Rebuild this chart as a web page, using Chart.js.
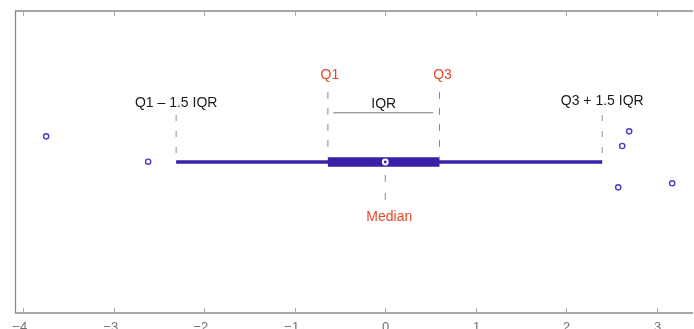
<!DOCTYPE html>
<html>
<head>
<meta charset="utf-8">
<script src="https://cdn.jsdelivr.net/npm/chart.js@4/dist/chart.umd.min.js"></script>
<style>
  html, body { margin: 0; padding: 0; background: #ffffff; }
  #wrap { width: 694px; height: 329px; }
</style>
</head>
<body>
<div id="wrap"><canvas id="c" width="694" height="329"></canvas></div>
<script>
// Box-plot summary of a sample: whiskers, quartiles and median on the x axis
const whiskerLow = -2.31;
const q1 = -0.634;
const median = 0.0;
const q3 = 0.599;
const whiskerHigh = 2.396;

// Points beyond the whiskers (y is only a small jitter around the box line)
const outlierX = [-3.746, -2.619, 2.573, 2.617, 2.694, 3.169];
const outlierY = [0.170, 0.002, -0.168, 0.106, 0.203, -0.141];

// Axis ticks
const tickValues = [-4, -3, -2, -1, 0, 1, 2, 3];
const tickLabels = ['\u22124', '\u22123', '\u22122', '\u22121', '0', '1', '2', '3'];

// Annotation texts
const fenceLowText = 'Q1 \u2013 1.5 IQR';
const fenceHighText = 'Q3 + 1.5 IQR';
const q1Text = 'Q1';
const q3Text = 'Q3';
const iqrText = 'IQR';
const medianText = 'Median';

const BOX_COLOR = '#3a1fa8';
const POINT_COLOR = '#4a3bcc';
const RED = '#e4472b';
const DASH_COLOR = '#8c8c8c';
const FONT = '"Liberation Sans", Arial, Helvetica, sans-serif';

function seg(x0, y0, x1, y1) { return [{ x: x0, y: y0 }, { x: x1, y: y1 }]; }

function dashed(data, dash) {
  return {
    type: 'scatter', showLine: true, data: data,
    borderColor: DASH_COLOR, borderWidth: 1, borderDash: dash,
    pointRadius: 0, pointHoverRadius: 0, order: 5
  };
}

const datasets = [
  // whisker line
  {
    type: 'scatter', showLine: true, data: seg(whiskerLow, 0, whiskerHigh, 0),
    borderColor: BOX_COLOR, borderWidth: 3.5, borderCapStyle: 'butt',
    pointRadius: 0, pointHoverRadius: 0, order: 3
  },
  // interquartile box
  {
    type: 'scatter', showLine: true, data: seg(q1, 0, q3, 0),
    borderColor: BOX_COLOR, borderWidth: 9.5, borderCapStyle: 'butt',
    pointRadius: 0, pointHoverRadius: 0, order: 2
  },
  // median marker
  {
    type: 'scatter', data: [{ x: median, y: 0 }],
    pointStyle: 'circle', pointRadius: 2.4, pointBorderWidth: 2,
    pointBackgroundColor: BOX_COLOR, pointBorderColor: '#ffffff', order: 1
  },
  // outliers
  {
    type: 'scatter', data: outlierX.map((x, i) => ({ x: x, y: outlierY[i] })),
    pointStyle: 'circle', pointRadius: 2.6, pointBorderWidth: 1.4,
    pointBackgroundColor: '#ffffff', pointBorderColor: POINT_COLOR, order: 0
  },
  // guide lines
  dashed(seg(whiskerLow, 0.311, whiskerLow, 0.035), [6, 10]),
  dashed(seg(whiskerHigh, 0.311, whiskerHigh, 0.035), [6, 10]),
  dashed(seg(q1, 0.464, q1, 0.035), [7, 9]),
  dashed(seg(q3, 0.464, q3, 0.035), [7, 9]),
  dashed(seg(median, -0.086, median, -0.265), [7, 11]),
  {
    type: 'scatter', showLine: true, data: seg(-0.575, 0.326, 0.530, 0.326),
    borderColor: '#7a7a7a', borderWidth: 1,
    pointRadius: 0, pointHoverRadius: 0, order: 5
  }
];

// Frame, inward ticks and tick labels
const framePlugin = {
  id: 'frame',
  beforeDatasetsDraw(chart) {
    const { ctx, chartArea: a, scales: { x } } = chart;
    ctx.save();
    ctx.strokeStyle = '#8a8a8a';
    ctx.lineWidth = 1.3;
    ctx.beginPath();
    ctx.moveTo(a.left + 0.5, a.bottom);
    ctx.lineTo(a.left + 0.5, a.top);
    ctx.lineTo(a.right - 1, a.top);
    ctx.moveTo(a.left, a.bottom);
    ctx.lineTo(a.right - 1, a.bottom);
    ctx.stroke();

    ctx.strokeStyle = '#a8a8a8';
    ctx.lineWidth = 1;
    ctx.font = '13px ' + FONT;
    ctx.fillStyle = '#707070';
    ctx.textBaseline = 'top';
    tickValues.forEach((v, i) => {
      const px = Math.round(x.getPixelForValue(v)) + 0.5;
      ctx.beginPath();
      ctx.moveTo(px, a.bottom);
      ctx.lineTo(px, a.bottom - 5);
      ctx.moveTo(px, a.top);
      ctx.lineTo(px, a.top + 5);
      ctx.stroke();
      const digitW = ctx.measureText(tickLabels[i].replace('\u2212', '')).width;
      ctx.textAlign = 'right';
      ctx.fillText(tickLabels[i], px + digitW / 2, a.bottom + 8);
    });
    ctx.restore();
  }
};

// Text annotations placed in data coordinates
const notesPlugin = {
  id: 'notes',
  afterDatasetsDraw(chart) {
    const { ctx, scales: { x, y } } = chart;
    const put = (text, vx, vy, color, dx) => {
      ctx.fillStyle = color;
      ctx.fillText(text, x.getPixelForValue(vx) + (dx || 0), y.getPixelForValue(vy));
    };
    ctx.save();
    ctx.font = '14px ' + FONT;
    ctx.textAlign = 'center';
    ctx.textBaseline = 'middle';
    put(fenceLowText, whiskerLow, 0.393, '#1a1a1a');
    put(fenceHighText, whiskerHigh, 0.400, '#1a1a1a');
    put(q1Text, q1, 0.576, RED, 2);
    put(q3Text, q3, 0.576, RED, 3);
    put(iqrText, (q1 + q3) / 2, 0.384, '#1a1a1a');
    put(medianText, median, -0.362, RED, 4);
    ctx.restore();
  }
};

new Chart(document.getElementById('c'), {
  type: 'scatter',
  data: { datasets: datasets },
  options: {
    responsive: false,
    animation: false,
    devicePixelRatio: 1,
    layout: { autoPadding: false, padding: { left: 15, top: 11, right: 0, bottom: 16 } },
    plugins: { legend: { display: false }, tooltip: { enabled: false } },
    scales: {
      x: { type: 'linear', min: -4.09, max: 3.41, display: false },
      y: { type: 'linear', min: -1, max: 1, display: false }
    }
  },
  plugins: [framePlugin, notesPlugin]
});
</script>
</body>
</html>
